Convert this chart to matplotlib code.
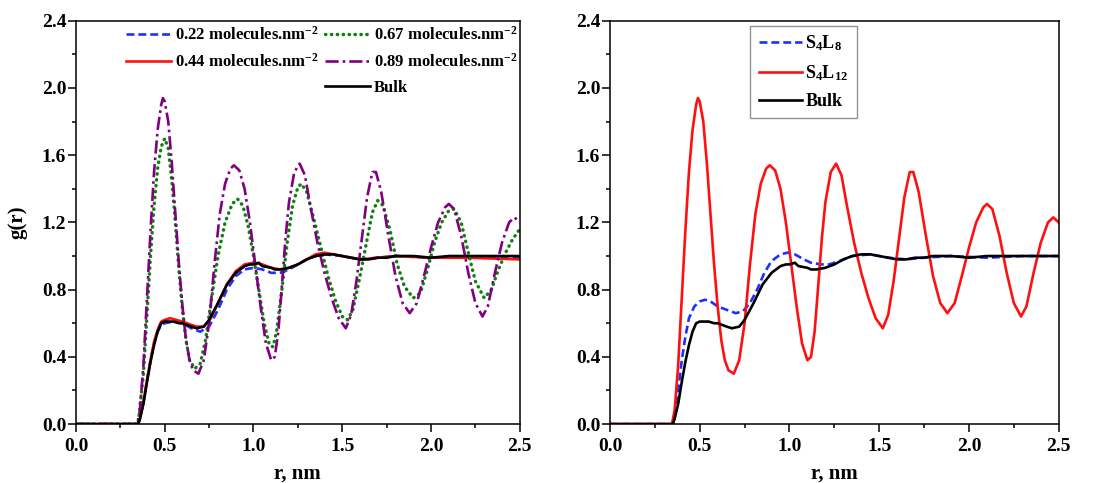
import matplotlib
matplotlib.use("Agg")
import matplotlib.pyplot as plt
from matplotlib.lines import Line2D
from matplotlib.ticker import MultipleLocator

plt.rcParams["font.family"] = ["Liberation Serif", "DejaVu Serif"]
plt.rcParams["font.weight"] = "bold"
plt.rcParams["mathtext.fontset"] = "custom"
plt.rcParams["mathtext.rm"] = "Liberation Serif:bold"
plt.rcParams["mathtext.bf"] = "Liberation Serif:bold"
plt.rcParams["mathtext.default"] = "bf"

# ---------------------------------------------------------------------------
# g(r) data
# ---------------------------------------------------------------------------

# 0.89 molecules.nm^-2  (same curve as S4L12)
r_089 = [0.0, 0.345, 0.36, 0.38, 0.40, 0.42, 0.44, 0.46, 0.48, 0.49, 0.50, 0.52, 0.54,
         0.56, 0.58, 0.60, 0.62, 0.64, 0.66, 0.69, 0.72, 0.75, 0.78, 0.81, 0.84, 0.87,
         0.89, 0.92, 0.95, 0.98, 1.01, 1.04, 1.07, 1.10, 1.12, 1.14, 1.16, 1.18, 1.20,
         1.23, 1.26, 1.29, 1.32, 1.36, 1.40, 1.44, 1.48, 1.52, 1.55, 1.58, 1.61, 1.64,
         1.67, 1.69, 1.72, 1.76, 1.80, 1.84, 1.88, 1.92, 1.96, 2.00, 2.04, 2.08, 2.10,
         2.13, 2.17, 2.21, 2.25, 2.29, 2.32, 2.36, 2.40, 2.44, 2.47, 2.50]
g_089 = [0.0, 0.0, 0.08, 0.35, 0.75, 1.15, 1.50, 1.75, 1.90, 1.94, 1.92, 1.80, 1.55,
         1.25, 0.95, 0.70, 0.50, 0.38, 0.32, 0.30, 0.38, 0.60, 0.95, 1.25, 1.43, 1.52,
         1.54, 1.51, 1.40, 1.20, 0.95, 0.70, 0.48, 0.38, 0.40, 0.55, 0.82, 1.10, 1.32,
         1.50, 1.55, 1.48, 1.30, 1.08, 0.90, 0.75, 0.63, 0.57, 0.65, 0.85, 1.10, 1.35,
         1.50, 1.50, 1.38, 1.12, 0.88, 0.72, 0.66, 0.72, 0.88, 1.05, 1.20, 1.29, 1.31,
         1.28, 1.12, 0.90, 0.72, 0.64, 0.70, 0.90, 1.08, 1.20, 1.23, 1.20]

# 0.67 molecules.nm^-2
r_067 = [0.0, 0.35, 0.38, 0.40, 0.42, 0.44, 0.46, 0.48, 0.50, 0.52, 0.54, 0.56, 0.58,
         0.60, 0.62, 0.64, 0.67, 0.70, 0.73, 0.76, 0.80, 0.84, 0.88, 0.91, 0.94, 0.97,
         1.00, 1.03, 1.06, 1.09, 1.11, 1.13, 1.16, 1.19, 1.22, 1.25, 1.27, 1.30, 1.34,
         1.38, 1.42, 1.46, 1.50, 1.53, 1.56, 1.60, 1.64, 1.67, 1.70, 1.73, 1.77, 1.81,
         1.85, 1.90, 1.94, 1.98, 2.02, 2.06, 2.10, 2.13, 2.17, 2.21, 2.25, 2.30, 2.34,
         2.38, 2.42, 2.46, 2.50]
g_067 = [0.0, 0.0, 0.30, 0.65, 1.00, 1.30, 1.52, 1.65, 1.70, 1.64, 1.45, 1.20, 0.92,
         0.68, 0.50, 0.38, 0.33, 0.36, 0.50, 0.72, 1.00, 1.20, 1.31, 1.34, 1.30, 1.18,
         1.00, 0.80, 0.60, 0.47, 0.46, 0.55, 0.80, 1.08, 1.30, 1.41, 1.43, 1.38, 1.22,
         1.05, 0.88, 0.74, 0.64, 0.62, 0.68, 0.88, 1.10, 1.26, 1.33, 1.30, 1.15, 0.95,
         0.82, 0.75, 0.78, 0.92, 1.08, 1.20, 1.27, 1.28, 1.20, 1.02, 0.85, 0.75, 0.80,
         0.92, 1.02, 1.10, 1.16]

# 0.22 molecules.nm^-2
r_022 = [0.0, 0.35, 0.36, 0.38, 0.40, 0.42, 0.44, 0.46, 0.48, 0.50, 0.55, 0.60, 0.65,
         0.70, 0.75, 0.80, 0.85, 0.90, 0.95, 1.00, 1.05, 1.10, 1.15, 1.20, 1.25, 1.30,
         1.35, 1.40, 1.50, 1.60, 1.70, 1.80, 2.00, 2.20, 2.50]
g_022 = [0.0, 0.0, 0.03, 0.13, 0.26, 0.38, 0.48, 0.55, 0.59, 0.60, 0.61, 0.60, 0.57,
         0.55, 0.58, 0.68, 0.80, 0.88, 0.92, 0.93, 0.92, 0.90, 0.90, 0.92, 0.95, 0.98,
         1.00, 1.01, 1.00, 0.98, 0.99, 1.00, 0.99, 0.99, 0.99]

# 0.44 molecules.nm^-2
r_044 = [0.0, 0.35, 0.36, 0.38, 0.40, 0.42, 0.44, 0.46, 0.48, 0.50, 0.53, 0.60, 0.65,
         0.68, 0.72, 0.76, 0.80, 0.85, 0.90, 0.95, 1.00, 1.05, 1.10, 1.15, 1.20, 1.25,
         1.30, 1.35, 1.40, 1.45, 1.50, 1.60, 1.70, 1.80, 2.00, 2.20, 2.50]
g_044 = [0.0, 0.0, 0.03, 0.13, 0.26, 0.38, 0.49, 0.56, 0.61, 0.62, 0.63, 0.61, 0.59,
         0.58, 0.58, 0.63, 0.72, 0.83, 0.91, 0.95, 0.96, 0.95, 0.93, 0.92, 0.93, 0.95,
         0.98, 1.01, 1.02, 1.01, 1.00, 0.98, 0.99, 1.00, 0.99, 0.99, 0.98]

# Bulk
r_bulk = [0.0, 0.35, 0.36, 0.38, 0.40, 0.42, 0.44, 0.46, 0.48, 0.50, 0.55, 0.58, 0.60,
          0.65, 0.68, 0.72, 0.75, 0.80, 0.85, 0.90, 0.95, 0.98, 1.00, 1.03, 1.05, 1.10,
          1.12, 1.15, 1.20, 1.25, 1.30, 1.35, 1.40, 1.45, 1.50, 1.55, 1.60, 1.65, 1.70,
          1.75, 1.80, 1.90, 2.00, 2.10, 2.20, 2.30, 2.40, 2.50]
g_bulk = [0.0, 0.0, 0.03, 0.12, 0.25, 0.37, 0.47, 0.55, 0.60, 0.61, 0.61, 0.60, 0.60,
          0.58, 0.57, 0.58, 0.62, 0.72, 0.83, 0.90, 0.94, 0.95, 0.95, 0.96, 0.94, 0.93,
          0.92, 0.92, 0.93, 0.95, 0.98, 1.00, 1.01, 1.01, 1.00, 0.99, 0.98, 0.98, 0.99,
          0.99, 1.00, 1.00, 0.99, 1.00, 1.00, 1.00, 1.00, 1.00]

# S4L8
r_s4l8 = [0.0, 0.35, 0.36, 0.38, 0.40, 0.42, 0.44, 0.47, 0.50, 0.53, 0.56, 0.60, 0.65,
          0.70, 0.74, 0.78, 0.82, 0.86, 0.90, 0.95, 0.99, 1.03, 1.08, 1.12, 1.18, 1.22,
          1.28, 1.35, 1.45, 1.55, 1.65, 1.75, 1.90, 2.10, 2.30, 2.50]
g_s4l8 = [0.0, 0.0, 0.05, 0.20, 0.38, 0.52, 0.63, 0.70, 0.73, 0.74, 0.73, 0.70, 0.68,
          0.66, 0.67, 0.72, 0.80, 0.90, 0.97, 1.01, 1.02, 1.01, 0.98, 0.96, 0.95, 0.95,
          0.97, 1.00, 1.01, 0.99, 0.98, 0.99, 1.00, 0.99, 1.00, 1.00]

BLUE = "#1f2fff"
RED = "#ff1010"
GREEN = "#108010"
PURPLE = "#800080"
LW = 1.9
DASHED = (0, (3, 1.5))
DOTTED = (0, (0.1, 1.6))
DASHDOT = (0, (5, 1.5, 1, 1.5))

fig = plt.figure(figsize=(11.04, 4.83), dpi=100)
ax1 = fig.add_axes([0.0688, 0.122, 0.402, 0.835])
ax2 = fig.add_axes([0.5525, 0.122, 0.4065, 0.835])

for ax in (ax1, ax2):
    ax.set_xlim(0, 2.5)
    ax.set_ylim(0, 2.4)
    ax.xaxis.set_major_locator(MultipleLocator(0.5))
    ax.xaxis.set_minor_locator(MultipleLocator(0.25))
    ax.yaxis.set_major_locator(MultipleLocator(0.4))
    ax.yaxis.set_minor_locator(MultipleLocator(0.2))
    ax.tick_params(which="both", direction="out", top=False, right=False, labelsize=14)
    ax.tick_params(which="major", length=6, width=1.1)
    ax.tick_params(which="minor", length=3, width=1.1)
    ax.tick_params(axis="y", which="both", pad=1)
    ax.tick_params(axis="x", which="both", pad=4)
    ax.set_xticks([0, 0.5, 1.0, 1.5, 2.0, 2.5])
    ax.set_xticklabels(["0.0", "0.5", "1.0", "1.5", "2.0", "2.5"])
    ax.set_xlabel("r, nm", fontsize=15, fontweight="bold", labelpad=6)
    for s in ax.spines.values():
        s.set_linewidth(1.1)

# left panel
h022, = ax1.plot(r_022, g_022, color=BLUE, ls=DASHED, lw=LW)
h044, = ax1.plot(r_044, g_044, color=RED, ls="-", lw=LW)
h067, = ax1.plot(r_067, g_067, color=GREEN, ls=DOTTED, lw=LW + 0.6,
                 dash_capstyle="round")
h089, = ax1.plot(r_089, g_089, color=PURPLE, ls=DASHDOT, lw=LW)
hb1, = ax1.plot(r_bulk, g_bulk, color="black", ls="-", lw=LW)
ax1.set_ylabel("g(r)", fontsize=15, fontweight="bold", labelpad=10)

blank = Line2D([], [], color="none")
ax1.legend([h022, h044, blank, h067, h089, hb1],
           ["0.22 molecules.nm$^{-2}$", "0.44 molecules.nm$^{-2}$", "",
            "0.67 molecules.nm$^{-2}$", "0.89 molecules.nm$^{-2}$", "Bulk"],
           ncol=2, frameon=False, fontsize=12, loc="upper left",
           bbox_to_anchor=(0.08, 1.025), handlelength=2.7, handletextpad=0.2,
           columnspacing=0.4, labelspacing=0.55)

# right panel
hs8, = ax2.plot(r_s4l8, g_s4l8, color=BLUE, ls=DASHED, lw=LW)
hs12, = ax2.plot(r_089, g_089, color=RED, ls="-", lw=LW)
hb2, = ax2.plot(r_bulk, g_bulk, color="black", ls="-", lw=LW)
leg = ax2.legend([hs8, hs12, hb2], ["S$_4$L$_8$", "S$_4$L$_{12}$", "Bulk"],
                 fontsize=13, loc="upper left", bbox_to_anchor=(0.313, 0.988),
                 borderaxespad=0, fancybox=False, edgecolor="#777777",
                 handlelength=2.4, handletextpad=0.2, labelspacing=0.55,
                 borderpad=0.45)
leg.get_frame().set_linewidth(1.0)

fig.savefig("out.png", dpi=100)
